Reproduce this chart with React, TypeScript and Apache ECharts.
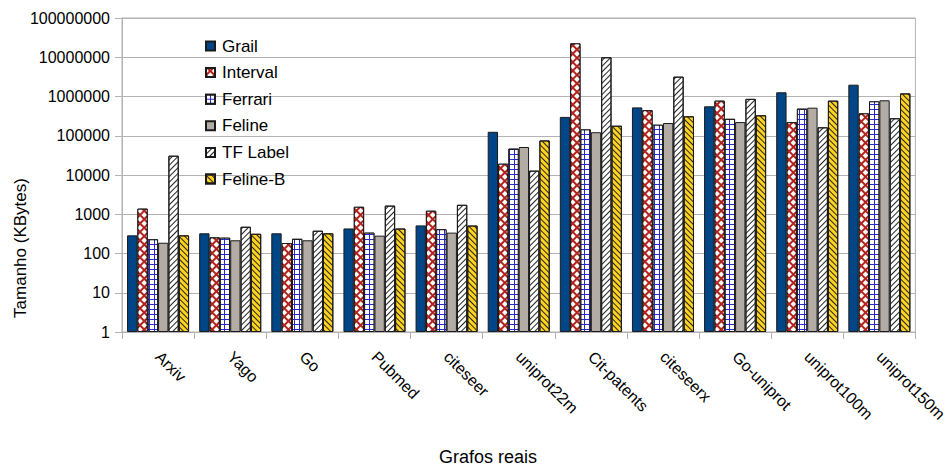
import React, { useEffect, useRef } from "react";
import * as echarts from "echarts";

const categories = [
  "Arxiv", "Yago", "Go", "Pubmed", "citeseer", "uniprot22m",
  "Cit-patents", "citeseerx", "Go-uniprot", "uniprot100m", "uniprot150m",
];

const grail = [290, 327, 327, 435, 520, 126000, 302000, 528000, 562000, 1280000, 2000000];
const interval = [1390, 258, 185, 1550, 1230, 19400, 22600000, 448000, 783000, 223000, 372000];
const ferrari = [230, 253, 237, 340, 415, 47000, 145000, 191000, 270000, 490000, 754000];
const feline = [188, 217, 217, 285, 340, 51700, 123000, 211000, 223000, 519000, 800000];
const tfLabel = [31000, 480, 380, 1660, 1740, 12900, 10000000, 3200000, 870000, 164000, 279000];
const felineB = [290, 318, 327, 433, 515, 76000, 180000, 313000, 332000, 783000, 1200000];

const FONT = "'Liberation Sans', Arial, sans-serif";

export default function App() {
  const ref = useRef<HTMLDivElement>(null);

  useEffect(() => {
    if (!ref.current) return;
    document.body.style.margin = "0";
    const chart = echarts.init(ref.current, undefined, { renderer: "svg" });

    const border = { borderColor: "#1a1a1a", borderWidth: 1 };

    const bar = (name: string, data: number[], itemStyle: any) => ({
      name,
      type: "bar",
      data,
      barGap: "0%",
      barCategoryGap: "14%",
      itemStyle: { ...border, ...itemStyle },
      emphasis: { disabled: true },
    });

    chart.setOption({
      animation: false,
      textStyle: { fontFamily: FONT, color: "#000" },
      grid: {
        left: 122,
        right: 34,
        top: 18,
        bottom: 134,
        show: true,
        borderColor: "#b3b3b3",
        borderWidth: 1,
      },
      legend: {
        orient: "vertical",
        left: 200,
        top: 32,
        itemWidth: 9,
        itemHeight: 9,
        itemGap: 8.6,
        icon: "rect",
        textStyle: { fontSize: 17, fontFamily: FONT, color: "#000", padding: [0, 0, 0, 2], lineHeight: 18 },
      },
      xAxis: {
        type: "category",
        data: categories,
        axisLine: { lineStyle: { color: "#b3b3b3" } },
        axisTick: { show: true, length: 7, lineStyle: { color: "#b3b3b3" } },
        axisLabel: { rotate: -45, fontSize: 16, color: "#000", fontFamily: FONT, margin: 22, interval: 0 },
      },
      yAxis: {
        type: "log",
        logBase: 10,
        min: 1,
        max: 100000000,
        axisLine: { show: true, lineStyle: { color: "#b3b3b3" } },
        axisTick: { show: true, length: 7, lineStyle: { color: "#b3b3b3" } },
        splitLine: { lineStyle: { color: "#b3b3b3" } },
        axisLabel: {
          fontSize: 16,
          color: "#000",
          fontFamily: FONT,
          margin: 12,
          formatter: (v: number) => String(Math.round(v)),
        },
      },
      graphic: [
        {
          type: "text",
          x: 20,
          y: 248,
          rotation: Math.PI / 2,
          style: {
            text: "Tamanho (KBytes)",
            font: `17px ${FONT}`,
            fill: "#000",
            align: "center",
            verticalAlign: "middle",
          },
        },
        {
          type: "text",
          x: 488,
          y: 457,
          style: {
            text: "Grafos reais",
            font: `18px ${FONT}`,
            fill: "#000",
            align: "center",
            verticalAlign: "middle",
          },
        },
      ],
      series: [
        bar("Grail", grail, { color: "#004586" }),
        bar("Interval", interval, {
          color: "#b3221c",
          decal: {
            symbol: "rect",
            color: "#ffffff",
            dashArrayX: [3.4, 1.2],
            dashArrayY: [3.4, 1.2],
            rotation: Math.PI / 4,
          },
        }),
        bar("Ferrari", ferrari, {
          color: "#2a2ac8",
          decal: {
            symbol: "rect",
            color: "#ffffff",
            dashArrayX: [3.2, 0.9],
            dashArrayY: [3.2, 0.9],
            rotation: 0,
          },
        }),
        bar("Feline", feline, { color: "#b2aca5" }),
        bar("TF Label", tfLabel, {
          color: "#ffffff",
          decal: {
            symbol: "rect",
            color: "#222222",
            dashArrayX: [1, 0],
            dashArrayY: [1, 3],
            rotation: -Math.PI / 4,
          },
        }),
        bar("Feline-B", felineB, {
          color: "#ffd320",
          decal: {
            symbol: "rect",
            color: "#222222",
            dashArrayX: [1, 0],
            dashArrayY: [1, 3],
            rotation: Math.PI / 4,
          },
        }),
      ],
    });

    return () => chart.dispose();
  }, []);

  return <div ref={ref} style={{ width: 950, height: 466 }} />;
}
